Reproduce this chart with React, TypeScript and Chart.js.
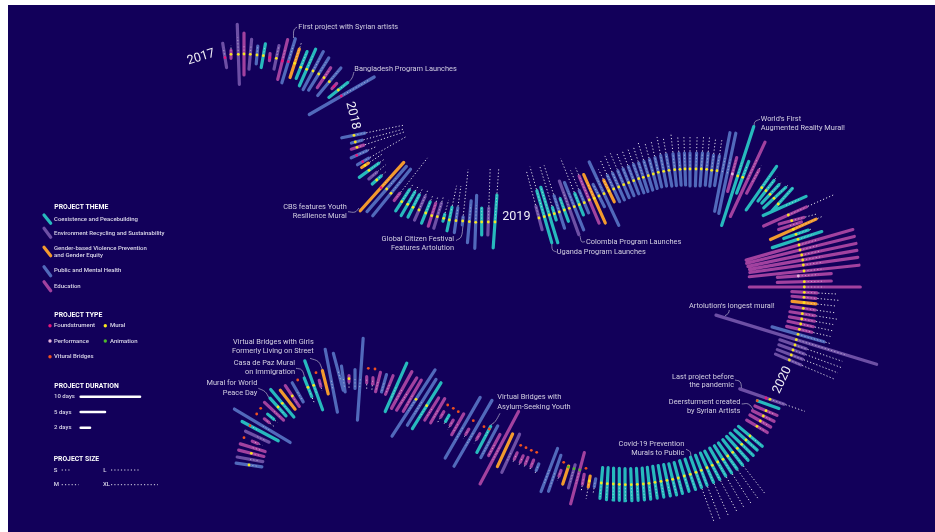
import React, { useEffect, useRef } from "react";
import { Chart, registerables } from "chart.js";
Chart.register(...registerables);

// themes
const C = 0, E = 1, G = 2, P = 3, D = 4;
const themeNames = ["Coexistence and Peacebuilding", "Environment Recycling and Sustainability", "Gender-based Violence Prevention|and Gender Equity", "Public and Mental Health", "Education"];
const themeColors = ["#27b9bd", "#6d4fa5", "#f29a2e", "#5169bb", "#a2419f"];
// project types
const N = 0, F = 1, M = 2, R = 3, A = 4, V = 5;
const typeColors = ["", "#e8167c", "#f7e61e", "#e7b6dc", "#4fb82c", "#f0501e"];

type Mark = number[]; // spine x, spine y, angle, length toward angle, length opposite, theme, type, dotted size

const marks2017: Mark[] = [
  [225,57.7,99,14.6,10,E,F,10],[231,54.3,90,4,4,D,M,9],[238.3,54.3,92,30,30,E,M,17],[244,54,90,21,21,D,M,10],[250.3,54.3,85,15,15,E,M,10],
  [257,55,85,9,9,P,M,9],[263.3,55.7,80,12,12,C,M,10],[269.7,57.7,85,4,3,D,F,0],[276.3,58.3,78,13,11,E,M,12],[282.3,61,76,22,19,D,F,12],
  [288.3,61.7,73,24,22,P,F,17],[294.7,63.3,72,15,15,G,M,22],[300.7,67.3,68,17,12,C,M,14],[306.7,69.3,66,22,18,C,M,14],[313,71,62,22,21,P,M,14],
  [318.7,74,58,19,19,P,M,14],[324,77.7,56,12,12,D,M,10],[329.3,81.7,50,18,18,P,M,14],[334,86.3,48,4,3,D,F,0],[338.3,90,38,12,12,C,M,10],[341.3,96,30,38,37,P,F,33],
];
const marks2018: Mark[] = [
  [354,135.3,11.5,11,12.5,P,M,52],[355.3,142,15,7,4,P,M,51],[357,147.3,18,7,6,D,M,51],[356.7,155.3,24,11,6,P,F,22],[362.7,161.7,30,7,6,P,F,50],
  [365,165.3,33,4,4,G,M,20],[369,170.3,36,12,12,C,M,20],[372.7,175.7,40,5,5,E,N,17],[376.7,180,42,6,6,C,M,14],[381,187.7,48,34,31,G,F,14],
  [386.7,189,49,30,30,P,M,14],[391,193.3,51,31,29,P,M,16],[396.7,197.3,52,5,4,D,N,50],[401.7,201.7,57,14,11,C,M,20],[407.7,204.3,60,14,13,C,M,22],
  [413,207.3,63,14,11,C,M,20],[419,210,66,15,11,E,M,22],[425.7,213,68,12,11,C,M,20],[431.7,215.7,72,13,11,D,M,20],[437.3,216.7,73,14,12,E,M,20],
  [443.7,218.3,75,4,3,C,M,19],[449.3,220,78,13,11,C,M,35],[456,220.7,82,13,12,P,M,35],[462.7,221,84,4,4,P,M,52],[469.3,221.7,85,21,21,P,M,17],[475.7,222.3,88,27,26,P,M,17],
  [481.7,222,90,14,13,C,M,14],[488.3,222,88,14,13,E,M,53],[495,222,86,27,26,C,M,53],
];
const marks2019: Mark[] = [
  [539,218,105,12,12,E,M,49],[544.3,216.7,106,27,27,C,M,52],[549.3,215,107,29,29,C,M,30],[554.3,213.7,107,6.5,6.5,C,M,49],[559.3,212,108,17,17,P,M,49],
  [564.3,210,110,12,12,C,M,14],[569.3,208.3,110,29,28,E,M,17],[574.3,206.7,112,26,25,P,M,17],[579.3,204.7,112,12,11,C,M,50],[584.3,202.7,113,13,11,P,M,35],
  [589.3,200,113,26,25,D,M,35],[594.3,198.3,114,26,27,G,M,17],[599,196,117,13,12,P,M,12],[604,193.7,115,35,35,P,M,17],[609,191,116,12,12,G,M,24],
  [613.7,189,115,15,14,P,M,31],[618.7,187,114,15,14,P,M,34],[623.7,184.7,113,15,14,P,M,34],[628.7,182.7,112,15,14,P,M,32],[633.7,180.7,111,15,14,P,M,31],
  [638.7,178.7,110,15,15,P,M,32],[643.3,177.3,108,15,15,P,M,31],[648.3,175.7,107,15,15,P,M,35],[653.3,174,105,15,15,P,M,33],[658.3,172.3,103,15,15,P,M,32],
  [663.7,171.3,101,16,15,P,M,35],[669,170.3,100,16,16,P,M,32],[674.7,169.7,96,16,16,P,M,36],[680,169.3,94,16,16,P,M,34],[685,169,92,16,16,P,M,33],
  [690,169,90,16,17,P,M,33],[696,169,88,16,17,P,M,33],[701.3,169,86,16,17,P,M,33],[706.7,169.3,85,16,16,P,M,33],[711.7,170.3,83,15,16,P,M,33],[717,170.7,81,15,15,P,M,33],
  [722.3,172,79,40,40,P,N,14],[727.3,173.3,78,41,41,P,N,14],[732.3,174,75,17,18,D,R,14],[737.7,176,72,52,52,C,M,14],[742.7,177.3,69,17,17,C,M,12],
  [747.7,179.3,65,41,41,D,N,22],[752.7,181.7,62,13,13,D,N,18],[761.7,187.7,55,26,27,C,M,14],[766,190.7,52,13,13,C,M,18],[770,194.3,47,13,12,C,M,17],
  [774,198.3,43,16,14,C,M,19],[778.3,204,48,21,10,C,M,21],[786,205.3,24,22,25,C,N,14],[788.3,215,24,20,27,D,M,50],[791.7,220.7,15,12.5,13,D,M,26],
  [790,225.7,18,12,12,D,N,10],[793.3,229.3,24,25,25,G,M,33],[796,234.3,19,13,13,C,M,17],[798,239.3,18,25,27,C,M,17],
  [799,245,16,56,55,D,M,20],[800,250,14,56,55,D,M,20],[801.7,255,12,55.5,55,D,M,20],[802.7,260,10,55,54,D,M,20],[803.3,265,8,55,54,D,M,20],[804,271,6,55.3,55,D,M,20],
  [798.3,276,4,33,21,D,R,20],[804.3,281.7,1.5,27,27,D,M,20],[804.3,287,0,56,55,D,M,20],
];
const marks2020: Mark[] = [
  [804.3,292.3,-3,12.5,12.5,D,M,33],[804,297.3,-5,12,12,D,M,36],[804,302.7,-6,12,12,G,M,33],[803.3,308.3,-8,12,12,D,M,32],[802.3,313.7,-9,12.5,12.5,D,M,35],
  [801.7,319,-10,13,12.5,D,M,32],[800.7,324,-12,13,13,D,M,33],[799.3,329.3,-13,13,13,D,M,32],[798,334.3,-16,27,27,P,M,35],[796.3,339.7,-17,84,84,E,M,53],
  [795,345,-19,11.7,16,E,M,50],[793,350,-20,12,15,E,M,52],[791.3,355,-21,12,15,E,M,50],[789.3,360,-23,12.5,15,E,M,50],
  [770,399.3,-19,15,32,E,M,37],[766,398,0,0,0,E,F,0],[757.3,400.7,-20,23,0,C,V,0],[766,410.7,-23,12,12,D,M,10],[763.3,416,-26,12,12,D,M,10],[760.3,421,-30,12,12,D,M,10],[757,426.3,-31,12,12,D,M,10],
  [750,436,-40,16,15,C,M,14],[746,440,-42,15,15,C,M,14],[741.7,444.3,-44,16,16,C,M,14],[737.3,448.3,-48,16,16,C,M,14],[732.7,452.3,-52,16,16,C,M,53],
  [727.7,456,-54.5,16,16,C,M,53],[723,459.3,-57.5,16,16,C,M,53],[717.7,462,-60,16,16,C,M,53],[712.3,465.3,-62,16,16,C,M,53],[707,467.7,-66,16,16,C,M,53],
  [701.3,470.3,-69,16,16,C,M,53],[696,472.3,-70,16,16,C,M,53],[690.3,474.3,-71,16,16,C,M,14],[684.3,476,-73,16,16,C,M,14],[678.3,478,-75,16,16,C,M,14],
  [672.7,479.3,-76,16,16,C,M,14],[667,480.3,-78,16,16,C,M,14],[661,481.3,-80,16,16,C,M,14],[655,482.3,-82,16,16,C,M,14],[649,483.3,-84,16,16,C,M,14],
  [643.3,484,-86,16,16,C,M,14],[637.3,484.3,-87,16,16,C,M,14],[631.3,484.7,-88,16,16,C,M,14],[625.3,484.7,-89,16,16,C,M,14],[619.3,484.3,-90,16,16,C,M,14],
  [613.3,484,-91,16,16,C,M,14],[607.3,483.7,-93,16,16,C,M,14],[601.3,483,-95,15.5,15.5,C,M,14],
];
const marksLower: Mark[] = [
  [595,482.7,-100,4,4,P,N,10],[589.3,481,-100,6,5,G,M,18],[583.3,479.3,-100,5,5,D,N,11],[579.7,470,-105,35,18,D,A,14],[574,468.7,-106,20,4,E,A,14],[568.3,467,-108,18,1,G,A,0],
  [586,468.3,0,0,0,D,V,0],[560,473.3,-110,3,3,D,N,8],[563.7,462.3,0,0,0,D,V,0],[554.7,473.3,-109,19,19,P,N,14],[549.3,470,-111,23,23,P,N,14],
  [537.7,466.7,-112,4,3,P,N,8],[532.3,463.3,-112,3.5,3.5,D,N,8],[526.7,460.7,-112,3.5,3.5,D,N,8],[521.7,459,-114,3.5,3.5,D,N,8],[515.7,456,-114,3.5,3.5,D,N,8],
  [536.7,452.3,0,0,0,D,V,0],[531.3,450.3,0,0,0,D,V,0],[526,447.7,0,0,0,D,V,0],[520.7,445.3,0,0,0,D,V,0],
  [510.7,453.3,-115,21,21,E,N,10],[505,450.3,-115,18,18,G,N,0],[499.3,447.7,-118,41,41,D,N,14],[494.3,445,-118,12,12,D,N,12],[489.3,441.7,-118,18,18,P,N,14],[489.3,429,-118,26.5,3,C,V,8],
  [473,433.3,-120,38,38,P,N,14],[478.3,436.3,-120,3,3,D,N,8],[484,426.7,0,0,0,D,V,0],[462.7,427.7,-120,35,35,P,N,14],[467.3,431.7,-120,3,3,D,N,8],[473.3,420.7,0,0,0,D,V,0],
  [457.7,424.3,-120,12,12,D,N,10],[451.7,422.7,-120,3,3,D,N,8],[447.3,418.3,-120,3.5,3.5,C,N,8],[458.3,411.7,0,0,0,D,V,0],[453.3,408.3,0,0,0,D,V,0],[447.7,405,0,0,0,D,V,0],
  [442.3,414.3,-120,3,3,D,N,9],[437.7,410.7,-120,14,14,D,N,10],[431.7,409,-122,13,13,D,N,10],[426.7,405.7,-122,27,27,C,M,14],[421.7,402.3,-122,27,27,P,N,14],[416,399.3,-123,44,35,P,M,14],
  [412.3,395.7,-120,18,18,D,N,12],[406.7,394,-122,19,19,D,N,12],[401.7,390,-119,21,21,D,N,12],[396,387.3,-114,26.5,26.5,C,N,12],[389.3,385,-112,10,10,D,N,9],[384,383.3,-106,9,9,P,N,9],[378,382,-104,10,10,D,N,9],
  [372.7,380.7,-95,3,3,D,N,9],[375,369,0,0,0,D,V,0],[366.7,379.7,-90,3,3,D,N,9],[368.3,368.3,0,0,0,D,V,0],[360.3,379.3,-94,41,41,P,N,10],[355,379,-90,9.5,9.5,P,N,8],[349,378.7,-90,3,3,D,M,9],
  [343.3,379,-82,13,13,P,N,9],[338.3,371.7,-75,19,19,P,N,9],[331.3,380.7,-79,32,32,P,N,9],[325.3,382.3,-76,12,12,G,N,0],[316,372.7,0,0,0,D,V,0],[320,383.3,-75,3,3,D,N,8],
  [313.7,385.3,-70,26,26,C,M,10],[308,387.3,-68,10,10,C,M,18],[297.7,380,0,0,0,D,V,0],[297.7,392.3,-60,11,11,P,N,9],[292.3,396,-56,12.5,12.5,D,M,9],[287.7,399.7,-52,12,12,G,N,0],
  [282.3,403.3,-50,18,18,C,M,9],[278,407,-48,12,12,C,M,9],[274,411.3,-43,13,13,D,N,9],[270.7,416.7,-40,4,4,C,N,9],[266.7,420.7,-38,3,3,D,N,9],[260.7,408.3,0,0,0,D,V,0],[256.7,414,0,0,0,D,V,0],
  [262.7,426,-31,32,33,P,N,10],[250,425.7,-28,32,9,C,V,10],[257.3,436.7,-25,13,13,E,N,9],[244,437.7,0,0,0,D,V,0],[255,442.3,-22,3,3,D,N,8],[252.7,447.7,-17,13,13,D,N,9],
  [251.3,453.3,-14,13,13,D,M,9],[250,459.3,-10,13,13,E,N,9],[249,465,-8,13,13,P,M,9],
];
const allMarks: Mark[] = [...marks2017, ...marks2018, ...marks2019, ...marks2020, ...marksLower];

// legend
const legendThemeBars = [[44,215,50.7,223.3,C],[44,228.3,50.7,237.3,E],[44,247.3,50.7,255.7,G],[44,266.7,50.7,275.7,P],[44,281.7,50.7,290.7,D]];
const legendTypePoints = [[50,325.7,F],[105.3,325.7,M],[50,341,R],[105.3,341,A],[50,356.7,V]];
const durationBars = [[80.7,396.7,140],[80.7,412,105],[80.7,427.7,90]];
const sizeDots = [[61.7,470,70.7],[111,470,140],[61.7,484.7,78.7],[111,484.7,158]];

type Label = [string, number, number, string?, number?];
const legendLabels: Label[] = [
  ["Coexistence and Peacebuilding",54,219],["Environment Recycling and Sustainability",54,233],["Gender-based Violence Prevention",54,248.3],["and Gender Equity",54,255.7],
  ["Public and Mental Health",54,270.7],["Education",54,286],["Foundstrument",54,325.7],["Mural",110,325.7],["Performance",54,341],["Animation",110,341],["Vitural Bridges",54,356.7],
  ["10 days",54,396.7],["5 days",54,412],["2 days",54,427.7],["S",53.7,470],["L",103.3,470],["M",53.7,484.7],["XL",103,484.7],
];
const legendTitles: Label[] = [["PROJECT THEME",54.3,207.3],["PROJECT TYPE",54.3,315.7],["PROJECT DURATION",54.3,386.7],["PROJECT SIZE",53.7,459]];
const noteLabels: Label[] = [
  ["First project with Syrian artists",298.3,27.3,"left"],["Bangladesh Program Launches",354.3,69,"left"],
  ["CBS features Youth",346.7,206.7,"right"],["Resilience Mural",346.7,216,"right"],["Global Citizen Festival",454,239,"right"],["Features Artolution",454,248.3,"right"],
  ["Colombia Program Launches",586,241.7,"left"],["Uganda Program Launches",556.7,252,"left"],["World's First",760.7,118.7,"left"],["Augmented Reality Mural!",760.7,127.7,"left"],
  ["Artolution's longest mural!",689,306,"left"],["Last project before",734,376.7,"right"],["the pandemic",734,385.3,"right"],["Deersturment created",740.3,401.7,"right"],["by Syrian Artists",740.3,410.7,"right"],
  ["Covid-19 Prevention",684.3,443.7,"right"],["Murals to Public",684.3,452.7,"right"],["Virtual Bridges with",497.3,397.3,"left"],["Asylum-Seeking Youth",497.3,406.7,"left"],
  ["Virtual Bridges with Girls",313.7,341.7,"right"],["Formerly Living on Street",313.7,350.7,"right"],["Casa de Paz Mural",295,362.7,"right"],["on Immigration",295,372.3,"right"],["Mural for World",257.3,383.3,"right"],["Peace Day",257.3,392.7,"right"],
];
const yearLabels: Label[] = [["2017",201,57.3,"center",-17],["2018",352.7,115.7,"center",76],["2019",516.3,216.7,"center",0],["2020",782.3,380,"center",-65]];
const leaders = [
  [[293.5,38],[294,30],[297,27]],[[348,82.7],[352,78],[354,72]],[[348,211.7],[355,212],[359,208]],[[456,240.5],[461,237],[463,226]],
  [[580,236],[581.7,241.7],[585,241.7]],[[551.7,243.3],[552.7,250],[556.7,252]],[[754,126],[755,121.7],[760,119.3]],[[725,315.7],[728.3,313.3],[729.3,310]],
  [[735,380],[740,381.7],[741.7,388.3]],[[741.7,404],[748.3,404],[753.3,409.3]],[[686,449.3],[690,451.7],[691,456.7]],[[500,413.3],[495,421.7],[490.7,425]],
  [[310,358.3],[318.3,361.7],[322.3,369.3]],[[296,368.3],[301.7,370],[305,378.3]],[[258.3,388.3],[265,391.7],[269,397.7]],
];

const GAP = { x: NaN, y: NaN };
const rad = (d: number) => (d * Math.PI) / 180;

function buildDatasets() {
  const ds: any[] = [];
  // first dataset is painted last
  const pts: any[] = [], ptColors: string[] = [], ptSizes: number[] = [];
  allMarks.forEach((m) => { if (m[6]) { pts.push({ x: m[0], y: m[1] }); ptColors.push(typeColors[m[6]]); ptSizes.push(1.4); } });
  legendTypePoints.forEach((p) => { pts.push({ x: p[0], y: p[1] }); ptColors.push(typeColors[p[2]]); ptSizes.push(1.7); });
  ds.push({ label: "types", data: pts, pointRadius: ptSizes, pointBorderWidth: 0, pointBackgroundColor: ptColors, showLine: false });

  // dots on the bar are faint, dots beyond the bar are bright
  const inner: any[] = [], outer: any[] = [];
  allMarks.forEach((m) => {
    if (!m[7]) return;
    const c = Math.cos(rad(m[2])), s = Math.sin(rad(m[2]));
    const cut = Math.min(m[3], m[7]);
    if (cut > 0) inner.push({ x: m[0], y: m[1] }, { x: m[0] + cut * c, y: m[1] - cut * s }, GAP);
    if (m[7] > cut + 1) outer.push({ x: m[0] + (cut + 1.5) * c, y: m[1] - (cut + 1.5) * s }, { x: m[0] + m[7] * c, y: m[1] - m[7] * s }, GAP);
  });
  sizeDots.forEach((s) => outer.push({ x: s[0], y: s[1] }, { x: s[2], y: s[1] }, GAP));
  ds.push({ label: "size", data: outer, showLine: true, pointRadius: 0, borderColor: "rgba(255,255,255,0.85)", borderWidth: 1, borderDash: [1.2, 2.1], spanGaps: false });
  ds.push({ label: "size on bar", data: inner, showLine: true, pointRadius: 0, borderColor: "rgba(255,255,255,0.45)", borderWidth: 1, borderDash: [1.2, 2.1], spanGaps: false });

  const dur: any[] = [];
  durationBars.forEach((b) => dur.push({ x: b[0], y: b[1] }, { x: b[2], y: b[1] }, GAP));
  ds.push({ label: "duration", data: dur, showLine: true, pointRadius: 0, borderColor: "#ffffff", borderWidth: 2.6, borderCapStyle: "round", spanGaps: false });

  [D, G, C, P, E].forEach((t) => {
    const seg: any[] = [];
    allMarks.forEach((m) => {
      if (m[5] !== t || (!m[3] && !m[4])) return;
      const c = Math.cos(rad(m[2])), s = Math.sin(rad(m[2]));
      seg.push({ x: m[0] + m[3] * c, y: m[1] - m[3] * s }, { x: m[0] - m[4] * c, y: m[1] + m[4] * s }, GAP);
    });
    legendThemeBars.forEach((b) => { if (b[4] === t) seg.push({ x: b[0], y: b[1] }, { x: b[2], y: b[3] }, GAP); });
    ds.push({ label: themeNames[t], data: seg, showLine: true, pointRadius: 0, borderColor: themeColors[t], borderWidth: 3.2, borderCapStyle: "round", spanGaps: false });
  });
  leaders.forEach((l) => ds.push({ label: "note", data: l.map((p) => ({ x: p[0], y: p[1] })), showLine: true, pointRadius: 0, borderColor: "#b9b4cf", borderWidth: 0.7, tension: 0.4 }));
  return ds;
}

const textPlugin = {
  id: "texts",
  afterDatasetsDraw(chart: any) {
    const { ctx, scales } = chart;
    const put = (list: Label[], font: string, color: string) => {
      list.forEach((l) => {
        ctx.save();
        ctx.translate(scales.x.getPixelForValue(l[1]), scales.y.getPixelForValue(l[2]));
        if (l[4]) ctx.rotate(rad(l[4]));
        ctx.font = font;
        ctx.fillStyle = color;
        ctx.textAlign = (l[3] as any) || "left";
        ctx.textBaseline = "middle";
        ctx.fillText(l[0], 0, 0);
        ctx.restore();
      });
    };
    put(legendLabels, "500 6px Roboto", "#dcd8ea");
    put(legendTitles, "700 6.8px Roboto", "#ffffff");
    put(noteLabels, "7.4px Roboto", "#d3cfe2");
    put(yearLabels, "12.6px Roboto", "#efedf5");
  },
};

export default function App() {
  const ref = useRef<HTMLCanvasElement>(null);
  useEffect(() => {
    const chart = new Chart(ref.current!, {
      type: "scatter",
      data: { datasets: buildDatasets() },
      options: {
        animation: false,
        responsive: false,
        devicePixelRatio: 1,
        layout: { padding: 0, autoPadding: false },
        plugins: { legend: { display: false }, tooltip: { enabled: false } },
        scales: {
          x: { type: "linear", display: false, min: 8, max: 935 },
          y: { type: "linear", display: false, min: 5, max: 532, reverse: true },
        },
      },
      plugins: [textPlugin],
    } as any);
    return () => chart.destroy();
  }, []);
  return (
    <canvas
      ref={ref}
      width={927}
      height={527}
      style={{ position: "absolute", left: 8, top: 5, width: 927, height: 527, background: "#12005a", filter: "blur(0.35px)" }}
    />
  );
}
